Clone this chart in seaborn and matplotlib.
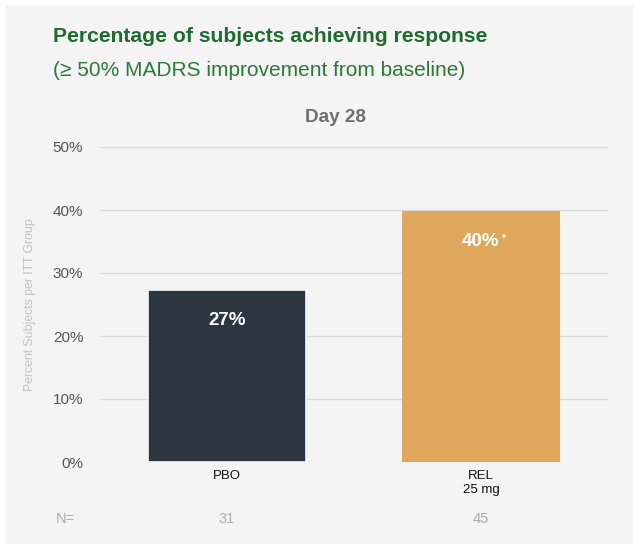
import matplotlib
matplotlib.use("Agg")
import matplotlib.pyplot as plt
import seaborn as sns
import pandas as pd
from matplotlib.patches import Rectangle

# Data
groups = ["PBO", "REL\n25 mg"]
response_pct = [27.3, 39.8]
value_labels = ["27%", "40%"]
n_counts = ["31", "45"]
bar_colors = ["#2b3640", "#e0a85c"]

df = pd.DataFrame({"group": groups, "pct": response_pct})

sns.set_theme(style="white")
plt.rcParams["font.family"] = ["Liberation Sans", "DejaVu Sans"]

fig = plt.figure(figsize=(6.38, 5.47), dpi=100)
fig.patch.set_facecolor("white")
# light grey panel behind everything
fig.patches.append(Rectangle((5 / 638, 3 / 547), 628 / 638, 539 / 547,
                             transform=fig.transFigure, facecolor="#f4f4f4",
                             edgecolor="none", zorder=-10))

ax = fig.add_axes([100 / 638, 1 - 462 / 547, 508 / 638, 315 / 547])
ax.set_facecolor("none")

sns.barplot(data=df, x="group", y="pct", hue="group", palette=bar_colors,
            width=0.62, legend=False, saturation=1, ax=ax, zorder=3)
ax.patches[0].set_edgecolor("#f8f8f8")
ax.patches[0].set_linewidth(1.2)
ax.patches[1].set_linewidth(0)

ax.set_ylim(0, 50)
ax.set_xlim(-0.5, 1.5)
ax.set_yticks([0, 10, 20, 30, 40, 50])
ax.set_yticklabels([f"{t}%" for t in [0, 10, 20, 30, 40, 50]],
                   color="#555555", fontsize=11)
ax.tick_params(axis="y", length=0, pad=12)
ax.tick_params(axis="x", length=0, pad=6, labelsize=9.5, labelcolor="#111111")
ax.yaxis.grid(True, color="#dadada", linewidth=1, zorder=0)
for s in ax.spines.values():
    s.set_visible(False)
ax.set_xlabel("")
ax.set_ylabel("Percent Subjects per ITT Group", color="#c2c2c2", fontsize=8.8, labelpad=12)

# value labels inside bars
for i, (v, lab) in enumerate(zip(response_pct, value_labels)):
    ax.text(i, v - 4.8, lab, ha="center", va="center", color="white",
            fontsize=13.5, fontweight="bold", zorder=5)
ax.text(1 + 0.09, response_pct[1] - 4.3, "*", ha="center", va="center",
        color="white", fontsize=7, fontweight="bold", zorder=5)

# N= row
ax.text(-0.635, -9.0, "N=", ha="center", va="center", color="#aaaaaa",
        fontsize=10.5, clip_on=False)
for i, n in enumerate(n_counts):
    ax.text(i, -9.0, n, ha="center", va="center", color="#aaaaaa",
            fontsize=10.5, clip_on=False)

# titles
fig.text(53 / 638, 1 - 37 / 547, "Percentage of subjects achieving response",
         color="#1e6b30", fontsize=15.2, fontweight="bold", ha="left", va="center")
fig.text(53 / 638, 1 - 70 / 547, "(\u2265 50% MADRS improvement from baseline)",
         color="#2a7a3a", fontsize=15, ha="left", va="center")
fig.text(335 / 638, 1 - 117 / 547, "Day 28", color="#6e6e6e", fontsize=13.6,
         fontweight="bold", ha="center", va="center")

fig.savefig("out.png", dpi=100, facecolor=fig.get_facecolor())
